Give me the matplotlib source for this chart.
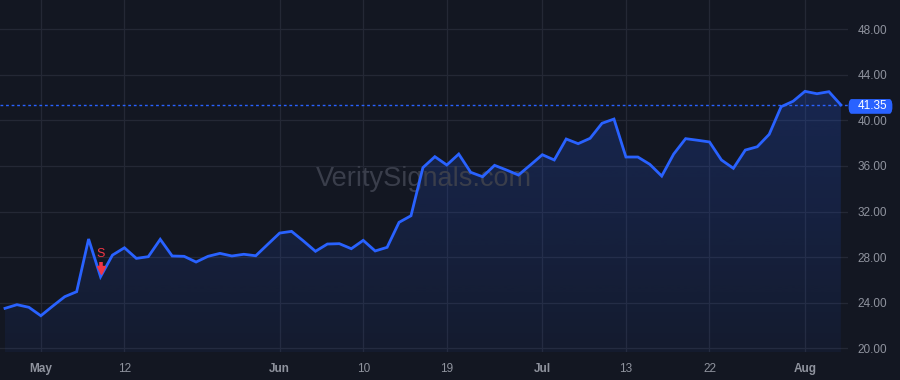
import numpy as np
import matplotlib
matplotlib.use("Agg")
import matplotlib.pyplot as plt
import matplotlib.transforms as mtrans
from matplotlib.patches import FancyBboxPatch, Polygon

plt.rcParams['font.family'] = ['Liberation Sans', 'DejaVu Sans']

# closing prices, one per session
values = [23.51, 23.83, 23.60, 22.86, 23.71, 24.53, 24.97, 29.59, 26.28, 28.18,
          28.82, 27.89, 28.04, 29.56, 28.10, 28.07, 27.57, 28.07, 28.33, 28.10,
          28.25, 28.12, 29.12, 30.11, 30.26, 29.41, 28.51, 29.15, 29.18, 28.74,
          29.47, 28.54, 28.86, 31.05, 31.63, 35.85, 36.81, 36.08, 37.04, 35.44,
          35.05, 36.05, 35.64, 35.20, 36.08, 36.98, 36.52, 38.36, 37.95, 38.42,
          39.74, 40.11, 36.78, 36.78, 36.14, 35.11, 37.04, 38.39, 38.25, 38.10,
          36.52, 35.79, 37.39, 37.68, 38.77, 41.19, 41.67, 42.54, 42.33, 42.51,
          41.35]
tick_idx = [3, 10, 23, 30, 37, 45, 52, 59, 67]
tick_labels = ["May", "12", "Jun", "10", "19", "Jul", "13", "22", "Aug"]
month_labels = {"May", "Jun", "Jul", "Aug"}
y_ticks = [20, 24, 28, 32, 36, 40, 44, 48]
sell_idx = 8
last_price = values[-1]

bg = '#131722'
blue = '#2962ff'
red = '#f23645'
grid = '#242835'
txt = '#8f939e'

fig = plt.figure(figsize=(9, 3.8), dpi=100, facecolor=bg)
ax = fig.add_axes([0, 28 / 380, 848 / 900, 352 / 380], facecolor=bg)

x = np.arange(len(values))
ax.set_xlim(-0.42, 70.6)
ax.set_ylim(19.68, 50.55)

# gradient area under the line
ymin = ax.get_ylim()[0]
ymax = max(values)
grad = np.zeros((100, 1, 4))
grad[:, 0, :3] = matplotlib.colors.to_rgb(blue)
grad[:, 0, 3] = np.linspace(0.06, 0.21, 100)
im = ax.imshow(grad, aspect='auto', origin='lower',
               extent=[x[0], x[-1], ymin, ymax], zorder=1)
verts = [(x[0], ymin)] + list(zip(x, values)) + [(x[-1], ymin)]
poly = Polygon(verts, closed=True, facecolor='none', edgecolor='none')
ax.add_patch(poly)
im.set_clip_path(poly)

ax.plot(x, values, color=blue, lw=2, zorder=3, solid_joinstyle='miter')

# last price line
ax.axhline(last_price, color=blue, lw=1, ls=(0, (2, 2)), zorder=2)

# grid
ax.set_xticks(tick_idx)
ax.set_xticklabels(tick_labels)
ax.set_yticks(y_ticks)
ax.set_yticklabels([f"{v:.2f}" for v in y_ticks])
ax.grid(True, color=grid, lw=0.9, zorder=0)
ax.set_axisbelow(True)
for s in ax.spines.values():
    s.set_visible(False)
ax.yaxis.tick_right()
ax.tick_params(axis='both', length=0, colors=txt, labelsize=8.5)
ax.tick_params(axis='y', pad=7)
ax.tick_params(axis='x', pad=8)
for lab in ax.get_xticklabels():
    if lab.get_text() in month_labels:
        lab.set_fontweight('bold')

# sell signal: shaft + head pointing at the point
sv = values[sell_idx]
ax.vlines(sell_idx, sv + 0.75, sv + 1.25, color=red, lw=2.6, zorder=4)
ax.plot(sell_idx, sv + 0.55, marker='v', ms=6, color=red, mec=red, zorder=4)
ax.text(sell_idx, sv + 1.45, 'S', color=red, fontsize=9,
        ha='center', va='bottom', zorder=4)

# watermark
ax.text(0.5, 0.472, 'VeritySignals.com', transform=ax.transAxes, color='#3a3e4b',
        fontsize=19.5, ha='center', va='baseline', zorder=2)

# price tag on the right axis
tr = mtrans.blended_transform_factory(ax.transAxes, ax.transData)
ax.add_patch(FancyBboxPatch((1.0, last_price - 0.78), 45 / 848, 1.29,
                            boxstyle='round,pad=0,rounding_size=0.004',
                            transform=tr, facecolor=blue, edgecolor='none',
                            clip_on=False, zorder=5, mutation_aspect=300))
ax.text(1.0 + 10 / 848, last_price - 0.13, f"{last_price:.2f}", transform=tr,
        color='white', fontsize=8.5, ha='left', va='center', zorder=6)

fig.savefig('out.png', dpi=100, facecolor=bg)
